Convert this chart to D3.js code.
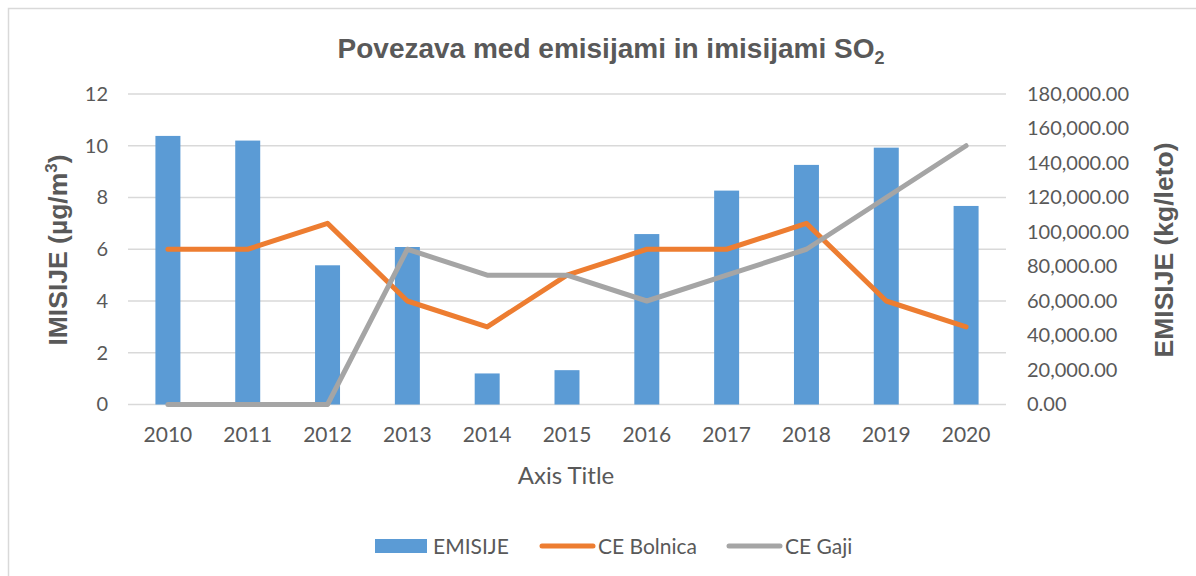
<!DOCTYPE html>
<html>
<head>
<meta charset="utf-8">
<script src="https://cdn.jsdelivr.net/npm/d3@7"></script>
<style>
  html, body { margin: 0; padding: 0; background: #fff; }
  svg { display: block; }
</style>
</head>
<body>
<svg id="chart" width="1196" height="576"></svg>
<script>
const years = ["2010","2011","2012","2013","2014","2015","2016","2017","2018","2019","2020"];
const emisije = [155700, 153000, 80700, 91300, 18000, 19900, 98800, 124000, 138900, 148900, 115100];
const ceBolnica = [6, 6, 7, 4, 3, 5, 6, 6, 7, 4, 3];
const ceGaji = [0, 0, 0, 6, 5, 5, 4, 5, 6, 8, 10];
const leftTicks = [0, 2, 4, 6, 8, 10, 12];
const rightTicks = [0, 20000, 40000, 60000, 80000, 100000, 120000, 140000, 160000, 180000];

const svg = d3.select("#chart");
const textColor = "#595959";
const gridColor = "#D9D9D9";
const tickFont = "Lato, 'Open Sans', sans-serif";
const boldFont = "'Liberation Sans', Arial, sans-serif";

// outer border
svg.append("rect").attr("x", 8.5).attr("y", 8.5).attr("width", 1300).attr("height", 700)
  .attr("fill", "#fff").attr("stroke", gridColor).attr("stroke-width", 1.5);

const x = d3.scaleBand().domain(years).range([128, 1006]).paddingInner(0.687).paddingOuter(0.3435);
const yL = d3.scaleLinear().domain([0, 12]).range([404.5, 94]);
const yR = d3.scaleLinear().domain([0, 180000]).range([404.5, 94]);

// gridlines
svg.append("g").selectAll("line").data(leftTicks).join("line")
  .attr("x1", 128).attr("x2", 1006)
  .attr("y1", d => yL(d)).attr("y2", d => yL(d))
  .attr("stroke", gridColor).attr("stroke-width", 1.5);

// left axis
const gL = svg.append("g").attr("transform", "translate(108,0)")
  .call(d3.axisLeft(yL).tickValues(leftTicks).tickSize(0).tickPadding(0));
gL.select(".domain").remove();
gL.selectAll("text").attr("font-family", tickFont).attr("font-size", 20).attr("fill", textColor);

// right axis
const gR = svg.append("g").attr("transform", "translate(1027,0)")
  .call(d3.axisRight(yR).tickValues(rightTicks).tickFormat(d3.format(",.2f")).tickSize(0).tickPadding(0));
gR.select(".domain").remove();
gR.selectAll("text").attr("font-family", tickFont).attr("font-size", 20).attr("fill", textColor);

// x axis
const gX = svg.append("g").attr("transform", "translate(0,422)")
  .call(d3.axisBottom(x).tickSize(0).tickPadding(0));
gX.select(".domain").remove();
gX.selectAll("text").attr("font-family", tickFont).attr("font-size", 21).attr("fill", textColor).attr("dy", "0.95em");

// bars
svg.append("g").selectAll("rect").data(emisije).join("rect")
  .attr("x", (d, i) => x(years[i]))
  .attr("width", x.bandwidth())
  .attr("y", d => yR(d))
  .attr("height", d => yR(0) - yR(d))
  .attr("fill", "#5B9BD5");

// lines
const line = d3.line().x((d, i) => x(years[i]) + x.bandwidth() / 2).y(d => yL(d));
svg.append("path").datum(ceBolnica).attr("d", line).attr("fill", "none")
  .attr("stroke", "#ED7D31").attr("stroke-width", 5).attr("stroke-linecap", "round").attr("stroke-linejoin", "round");
svg.append("path").datum(ceGaji).attr("d", line).attr("fill", "none")
  .attr("stroke", "#A5A5A5").attr("stroke-width", 5).attr("stroke-linecap", "round").attr("stroke-linejoin", "round");

// title
const title = svg.append("text").attr("x", 611).attr("y", 58).attr("text-anchor", "middle")
  .attr("font-family", boldFont).attr("font-weight", "bold").attr("font-size", 28).attr("fill", textColor);
title.append("tspan").text("Povezava med emisijami in imisijami SO");
title.append("tspan").text("2").attr("font-size", 18).attr("dy", 6);

// axis titles
svg.append("text").attr("transform", "translate(67,250) rotate(-90)").attr("text-anchor", "middle")
  .attr("font-family", boldFont).attr("font-weight", "bold").attr("font-size", 26.5).attr("fill", textColor)
  .call(t => {
    t.append("tspan").text("IMISIJE (µg/m");
    t.append("tspan").text("3").attr("font-size", 17).attr("dy", -10);
    t.append("tspan").text(")").attr("dy", 10);
  });

svg.append("text").attr("transform", "translate(1173,250) rotate(-90)").attr("text-anchor", "middle")
  .attr("font-family", boldFont).attr("font-weight", "bold").attr("font-size", 26.5).attr("fill", textColor)
  .text("EMISIJE (kg/leto)");

svg.append("text").attr("x", 566).attr("y", 484).attr("text-anchor", "middle")
  .attr("font-family", tickFont).attr("font-size", 24).attr("fill", textColor).text("Axis Title");

// legend
const legendItems = [
  { name: "EMISIJE", color: "#5B9BD5", type: "rect", x: 375 },
  { name: "CE Bolnica", color: "#ED7D31", type: "line", x: 540 },
  { name: "CE Gaji", color: "#A5A5A5", type: "line", x: 727 }
];
const lg = svg.append("g");
legendItems.forEach(it => {
  if (it.type === "rect") {
    lg.append("rect").attr("x", it.x).attr("y", 539).attr("width", 52).attr("height", 14).attr("fill", it.color);
  } else {
    lg.append("line").attr("x1", it.x + 2).attr("x2", it.x + 53).attr("y1", 546).attr("y2", 546)
      .attr("stroke", it.color).attr("stroke-width", 5).attr("stroke-linecap", "round");
  }
  lg.append("text").attr("x", it.x + 58).attr("y", 546).attr("dy", "0.36em")
    .attr("font-family", tickFont).attr("font-size", 21).attr("fill", textColor).text(it.name);
});
</script>
</body>
</html>
